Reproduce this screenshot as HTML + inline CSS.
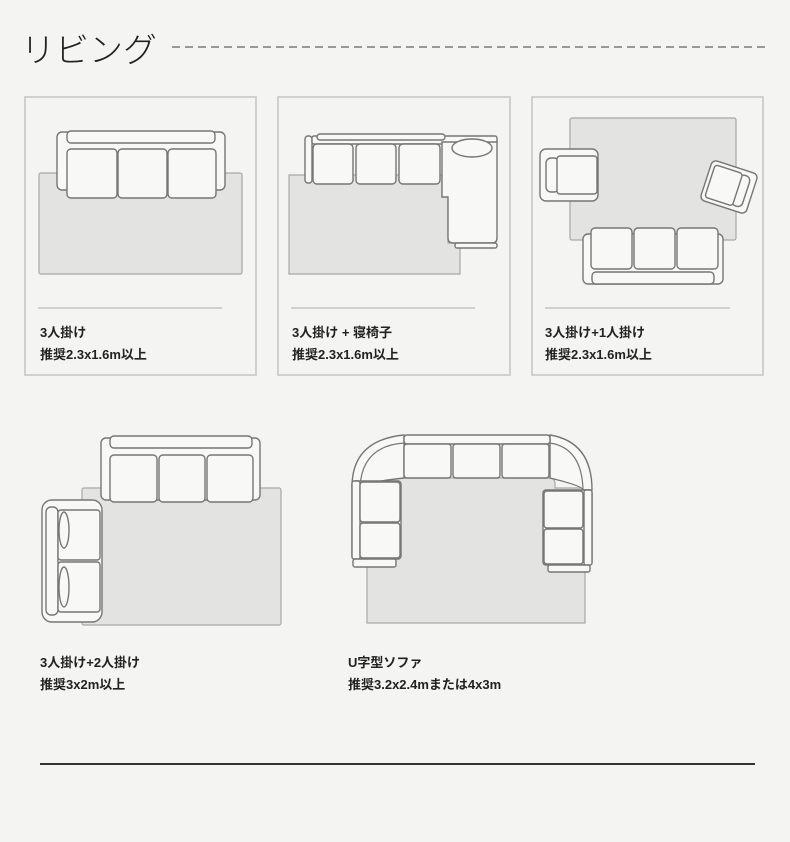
<!DOCTYPE html>
<html><head><meta charset="utf-8"><style>
html,body{margin:0;padding:0;background:#f4f4f3;}
svg{display:block}
text{font-family:"Liberation Sans","Noto Sans CJK JP",sans-serif;fill:#222}
.c{fill:#f8f8f7;stroke:#767676;stroke-width:1.4}
.r{fill:#e3e3e2;stroke:#a8a8a8;stroke-width:1.2}
.p{fill:none;stroke:#c4c4c2;stroke-width:1.5}
.t{font-size:13px;font-weight:bold}
</style></head><body>
<svg width="790" height="842" viewBox="0 0 790 842" xmlns="http://www.w3.org/2000/svg">
<rect width="790" height="842" fill="#f4f4f3"/>
<text x="21" y="62" style="font-size:34px;font-weight:300;font-family:'Noto Sans CJK JP',sans-serif">リビング</text>
<line x1="172" y1="47" x2="766" y2="47" stroke="#7a7a7a" stroke-width="1.5" stroke-dasharray="8,5"/>

<!-- panel 1 -->
<rect class="p" x="25" y="97" width="231" height="278"/>
<rect class="r" x="39" y="173" width="203" height="101" rx="2"/>
<rect class="c" x="57" y="132" width="168" height="58" rx="5"/>
<rect class="c" x="67" y="131" width="148" height="12" rx="4"/>
<rect class="c" x="67" y="149" width="50" height="49" rx="4"/>
<rect class="c" x="118" y="149" width="49" height="49" rx="4"/>
<rect class="c" x="168" y="149" width="48" height="49" rx="4"/>
<line x1="38" y1="308" x2="222" y2="308" stroke="#aaa" stroke-width="1"/>
<text class="t" x="40" y="337">3人掛け</text>
<text class="t" x="40" y="359">推奨2.3x1.6m以上</text>

<!-- panel 2 -->
<rect class="p" x="278" y="97" width="232" height="278"/>
<path class="r" d="M289 175 H442 V197 H448 V243 H460 V274 H289 Z"/>
<rect class="c" x="305" y="136" width="7" height="47" rx="3"/>
<rect class="c" x="312" y="136" width="185" height="8" rx="2"/>
<rect class="c" x="317" y="134" width="128" height="6" rx="3"/>
<path class="c" d="M442 142 H497 V238 Q497 243 492 243 H453 Q448 243 448 238 V197 H442 Z"/>
<ellipse class="c" cx="472" cy="148" rx="20" ry="9"/>
<rect class="c" x="455" y="243" width="42" height="5" rx="2"/>
<rect class="c" x="313" y="144" width="40" height="40" rx="4"/>
<rect class="c" x="356" y="144" width="40" height="40" rx="4"/>
<rect class="c" x="399" y="144" width="41" height="40" rx="4"/>
<line x1="291" y1="308" x2="475" y2="308" stroke="#aaa" stroke-width="1"/>
<text class="t" x="292" y="337">3人掛け + 寝椅子</text>
<text class="t" x="292" y="359">推奨2.3x1.6m以上</text>

<!-- panel 3 -->
<rect class="p" x="532" y="97" width="231" height="278"/>
<rect class="r" x="570" y="118" width="166" height="122" rx="2"/>
<rect class="c" x="540" y="149" width="58" height="52" rx="6"/>
<rect class="c" x="546" y="158" width="13" height="34" rx="5"/>
<rect class="c" x="557" y="156" width="40" height="38" rx="3"/>
<g transform="rotate(18 729 187)">
<rect class="c" x="705" y="166" width="48" height="42" rx="5"/>
<rect class="c" x="736" y="171" width="11" height="32" rx="5"/>
<rect class="c" x="709" y="170" width="29" height="34" rx="3"/>
</g>
<rect class="c" x="583" y="234" width="140" height="50" rx="5"/>
<rect class="c" x="592" y="272" width="122" height="12" rx="4"/>
<rect class="c" x="591" y="228" width="41" height="41" rx="4"/>
<rect class="c" x="634" y="228" width="41" height="41" rx="4"/>
<rect class="c" x="677" y="228" width="41" height="41" rx="4"/>
<line x1="545" y1="308" x2="730" y2="308" stroke="#aaa" stroke-width="1"/>
<text class="t" x="545" y="337">3人掛け+1人掛け</text>
<text class="t" x="545" y="359">推奨2.3x1.6m以上</text>

<!-- panel 4 -->
<rect class="r" x="82" y="488" width="199" height="137" rx="2"/>
<rect class="c" x="101" y="438" width="159" height="62" rx="5"/>
<rect class="c" x="110" y="436" width="142" height="12" rx="4"/>
<rect class="c" x="110" y="455" width="47" height="47" rx="4"/>
<rect class="c" x="159" y="455" width="46" height="47" rx="4"/>
<rect class="c" x="207" y="455" width="46" height="47" rx="4"/>
<rect class="c" x="42" y="500" width="60" height="122" rx="10"/>
<rect class="c" x="46" y="507" width="12" height="108" rx="5"/>
<rect class="c" x="58" y="510" width="42" height="50" rx="3"/>
<rect class="c" x="58" y="562" width="42" height="50" rx="3"/>
<ellipse class="c" cx="64" cy="530" rx="5" ry="18"/>
<ellipse class="c" cx="64" cy="587" rx="5" ry="20"/>
<text class="t" x="40" y="667">3人掛け+2人掛け</text>
<text class="t" x="40" y="689">推奨3x2m以上</text>

<!-- panel 5 -->
<path class="r" d="M367 482 Q367 478 371 478 H549 Q555 478 555 484 V488 H585 V623 H367 Z"/>
<path class="c" d="M352 487 Q352 440 404 435 V478 Q368 482 360 487 Z"/>
<path class="c" d="M592 490 Q592 442 550 435 V478 Q583 486 583 490 Z"/>
<path fill="none" stroke="#767676" stroke-width="1.2" d="M360 487 Q362 446 404 443 M583 490 Q582 448 550 443"/>
<rect class="c" x="404" y="435" width="146" height="9" rx="3"/>
<rect class="c" x="404" y="444" width="47" height="34" rx="3"/>
<rect class="c" x="453" y="444" width="47" height="34" rx="3"/>
<rect class="c" x="502" y="444" width="47" height="34" rx="3"/>
<rect class="c" x="352" y="481" width="49" height="78" rx="3"/>
<rect class="c" x="352" y="481" width="8" height="78" rx="2"/>
<rect class="c" x="360" y="482" width="40" height="40" rx="3"/>
<rect class="c" x="360" y="523" width="40" height="35" rx="3"/>
<rect class="c" x="353" y="559" width="43" height="8" rx="2"/>
<rect class="c" x="543" y="490" width="49" height="75" rx="3"/>
<rect class="c" x="584" y="490" width="8" height="75" rx="2"/>
<rect class="c" x="544" y="491" width="39" height="37" rx="3"/>
<rect class="c" x="544" y="529" width="39" height="35" rx="3"/>
<rect class="c" x="548" y="565" width="42" height="7" rx="2"/>
<text class="t" x="348" y="667">U字型ソファ</text>
<text class="t" x="348" y="689">推奨3.2x2.4mまたは4x3m</text>

<line x1="40" y1="764" x2="755" y2="764" stroke="#333" stroke-width="2"/>
</svg>
</body></html>
